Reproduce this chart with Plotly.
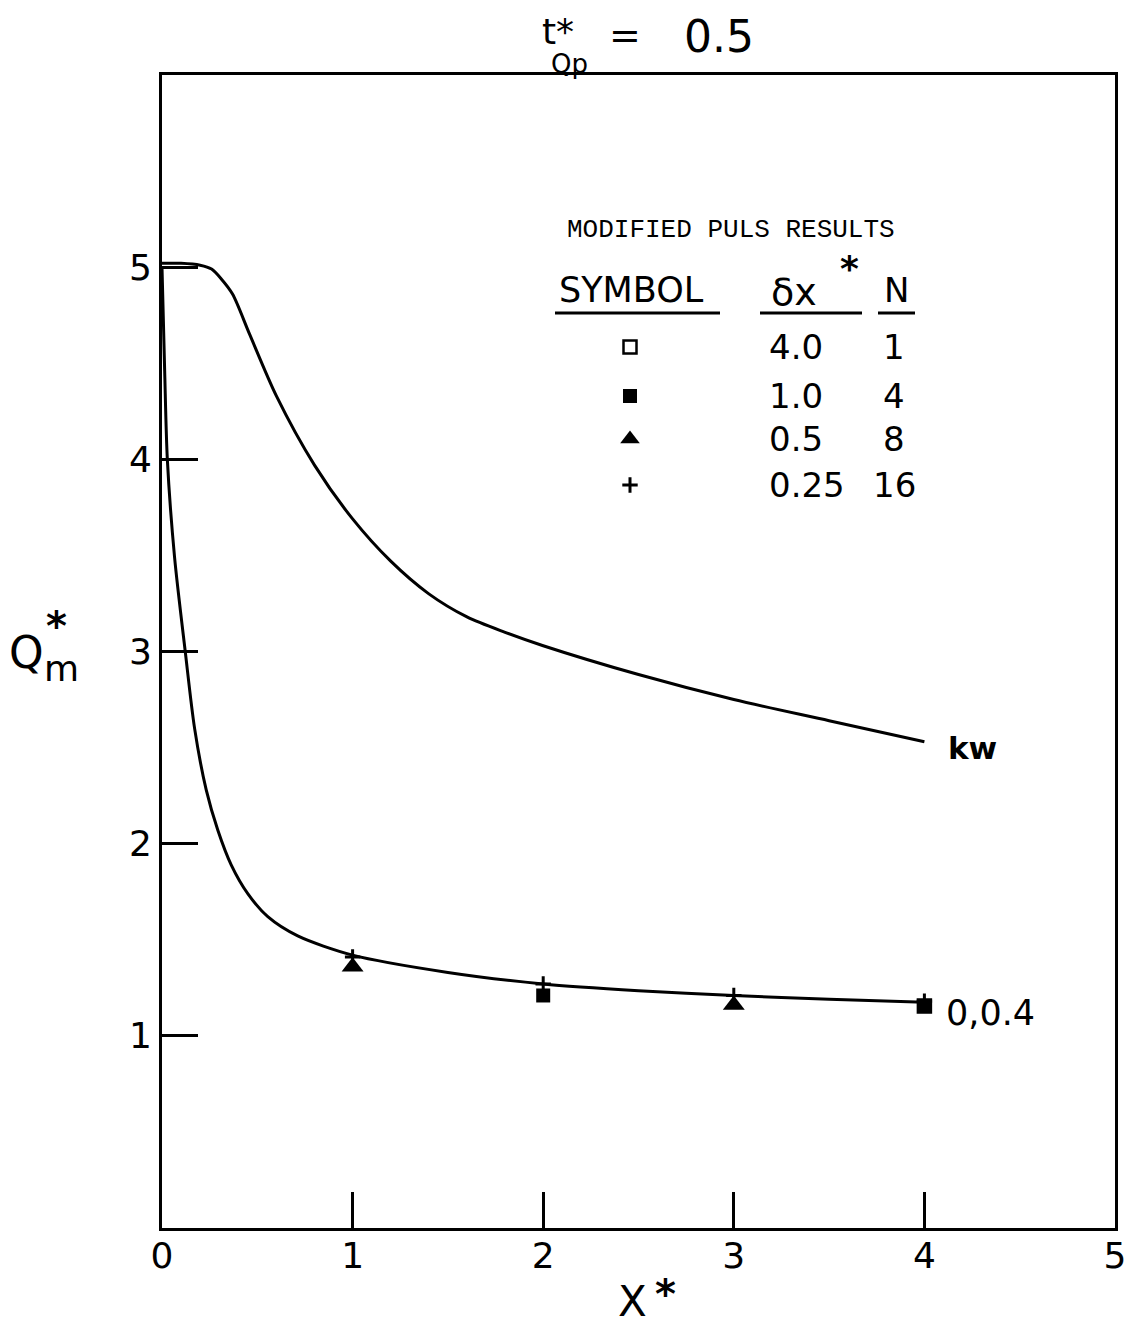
import plotly.graph_objects as go

# ---------------- data ----------------
# Kinematic-wave (kw) curve
kw_x = [0.0, 0.1, 0.2, 0.26, 0.31, 0.37, 0.46, 0.60, 0.80, 1.00, 1.20, 1.40, 1.60, 1.80, 2.00, 2.50, 3.00, 3.50, 4.00]
kw_y = [5.02, 5.02, 5.01, 4.99, 4.94, 4.86, 4.65, 4.33, 3.97, 3.69, 3.47, 3.30, 3.18, 3.10, 3.03, 2.88, 2.75, 2.64, 2.53]

# Curve labelled "0,0.4"
low_x = [0.0, 0.014, 0.028, 0.066, 0.122, 0.171, 0.232, 0.293, 0.363, 0.45, 0.555, 0.712, 1.0, 1.5, 2.0, 2.5, 3.0, 3.5, 4.0]
low_y = [5.0, 4.46, 4.0, 3.49, 3.0, 2.60, 2.28, 2.07, 1.89, 1.74, 1.62, 1.52, 1.42, 1.33, 1.27, 1.235, 1.21, 1.19, 1.175]

# Modified Puls results
osq_x = [4.0]            # delta x* = 4.0, N = 1
osq_y = [1.155]
fsq_x = [2.0, 4.0]       # delta x* = 1.0, N = 4
fsq_y = [1.21, 1.155]
tri_x = [1.0, 3.0]       # delta x* = 0.5, N = 8
tri_y = [1.36, 1.16]
plus_x = [1.0, 2.0, 3.0, 4.0]   # delta x* = 0.25, N = 16
plus_y = [1.41, 1.27, 1.21, 1.18]

x_ticks = [0, 1, 2, 3, 4, 5]
y_ticks = [1, 2, 3, 4, 5]

legend_dx = ["4.0", "1.0", "0.5", "0.25"]
legend_n = ["1", "4", "8", "16"]

# ---------------- layout constants (screen pixels) ----------------
W, H = 1132, 1328
OFF = 8                      # page body margin
L, R, T, B = 162, 1115, 75, 1228
SANS = "DejaVu Sans"


def px(xp):
    return (xp - L) / (R - L)


def py(yp):
    return (B - yp) / (B - T)


annotations = []


def ann(text, xp, yp, size, xanchor="center", yanchor="middle", family=SANS, weight="normal"):
    annotations.append(dict(
        text=text, x=px(xp), y=py(yp), xref="paper", yref="paper",
        xanchor=xanchor, yanchor=yanchor, showarrow=False,
        font=dict(family=family, size=size, color="black", weight=weight)))


fig = go.Figure()

line_style = dict(color="black", width=3, shape="spline", smoothing=0.8)
fig.add_trace(go.Scatter(x=kw_x, y=kw_y, mode="lines", line=line_style, showlegend=False))
fig.add_trace(go.Scatter(x=low_x, y=low_y, mode="lines", line=line_style, showlegend=False))

open_sq = dict(symbol="square-open", size=13, color="black", line=dict(width=2.5, color="black"))
fill_sq = dict(symbol="square", size=14, color="black")
tri = dict(symbol="triangle-up", size=19, color="black")
plus = dict(symbol="cross-thin", size=11, color="black", line=dict(width=3, color="black"))

fig.add_trace(go.Scatter(x=osq_x, y=osq_y, mode="markers", marker=open_sq, showlegend=False))
fig.add_trace(go.Scatter(x=plus_x, y=plus_y, mode="markers", marker=plus, showlegend=False))
fig.add_trace(go.Scatter(x=tri_x, y=tri_y, mode="markers", marker=tri, showlegend=False))
fig.add_trace(go.Scatter(x=fsq_x, y=fsq_y, mode="markers", marker=fill_sq, showlegend=False))

# ---------------- key (legend table) ----------------
row_y = [347, 396, 439, 485]
key_markers = [open_sq, fill_sq, dict(tri, size=17), plus]
for m, ry in zip(key_markers, row_y):
    fig.add_trace(go.Scatter(x=[px(630)], y=[py(ry)], mode="markers", marker=m,
                             xaxis="x2", yaxis="y2", showlegend=False))
for dx, n, ry in zip(legend_dx, legend_n, row_y):
    ann(dx, 767, ry, 34, xanchor="left")
    ann(n, 894, ry, 34)

ann("MODIFIED PULS RESULTS", 731, 230, 26, family="Liberation Mono")
ann("SYMBOL", 631, 290, 35)
ann("δx", 794, 292, 38)
ann("*", 849, 268, 36, weight="bold")
ann("N", 896, 290, 34)

shapes = []
for x0, x1 in [(555, 720), (760, 862), (878, 915)]:
    shapes.append(dict(type="line", xref="paper", yref="paper",
                       x0=px(x0), x1=px(x1), y0=py(313), y1=py(313),
                       line=dict(color="black", width=3)))

# ---------------- curve labels ----------------
ann("kw", 946, 748, 31, xanchor="left", weight="bold")
ann("0,0.4", 944, 1013, 35, xanchor="left")

# ---------------- title and axis titles ----------------
ann("t*", 540, 31, 36, xanchor="left")
ann("Qp", 569, 64, 26)
ann("=", 625, 35, 38)
ann("0.5", 719, 36, 44)

ann("Q", 26, 652, 44)
ann("*", 56, 626, 40, weight="bold")
ann("m", 61, 668, 36)

ann("X", 632, 1302, 42)
ann("*", 665, 1294, 40, weight="bold")

axis_common = dict(showline=True, mirror=True, linecolor="black", linewidth=3,
                   ticks="inside", ticklen=36, tickwidth=3, tickcolor="black",
                   showgrid=False, zeroline=False,
                   tickfont=dict(family=SANS, size=36, color="black"))

fig.update_layout(
    width=W, height=H,
    margin=dict(l=L - OFF, r=W - (R - OFF), t=T - OFF, b=H - (B - OFF)),
    paper_bgcolor="white", plot_bgcolor="white",
    xaxis=dict(range=[0, 5], tickvals=x_ticks, ticktext=[str(v) for v in x_ticks],
               ticklabelstandoff=-6, **axis_common),
    yaxis=dict(range=[0, 6], tickvals=y_ticks, ticktext=[str(v) for v in y_ticks], **axis_common),
    xaxis2=dict(overlaying="x", range=[0, 1], visible=False),
    yaxis2=dict(overlaying="y", range=[0, 1], visible=False),
    annotations=annotations,
    shapes=shapes,
    showlegend=False,
)

fig.write_html("out.html")
